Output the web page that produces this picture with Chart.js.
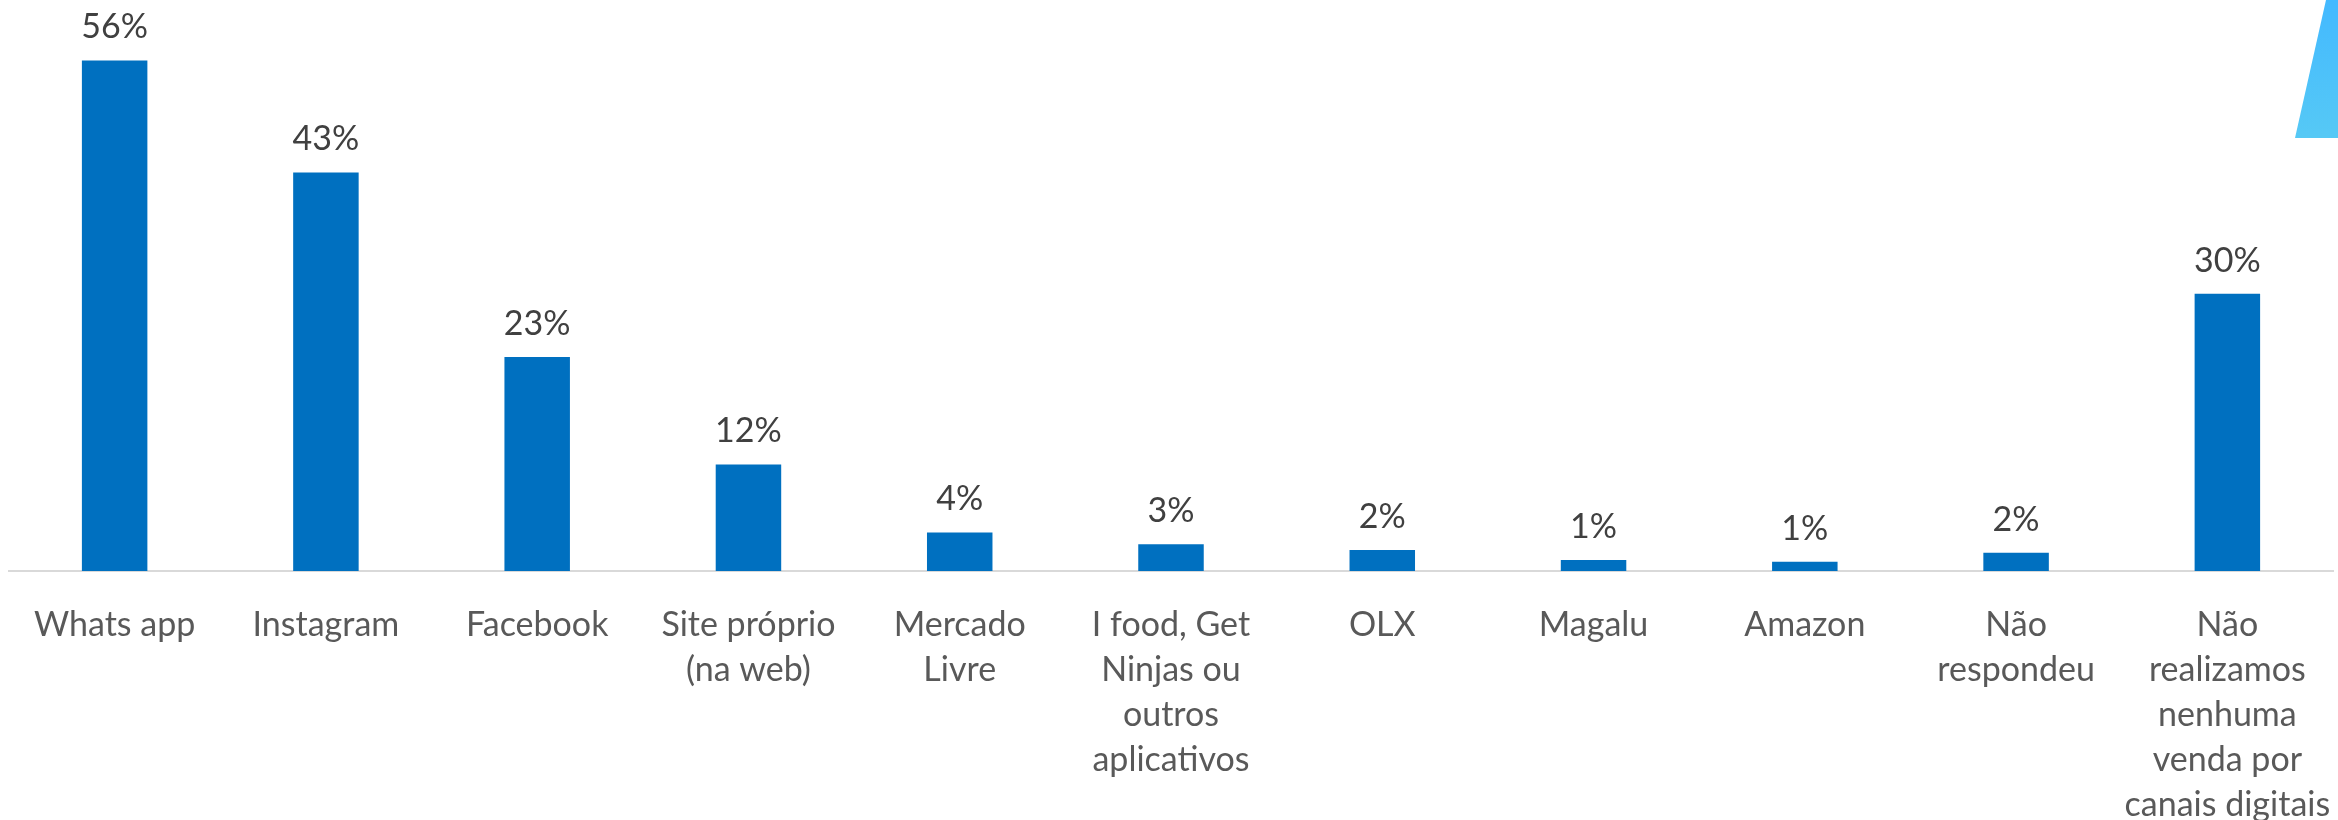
<!DOCTYPE html>
<html>
<head>
<meta charset="utf-8">
<script src="https://cdn.jsdelivr.net/npm/chart.js@4.4.1/dist/chart.umd.min.js"></script>
<style>
  html, body { margin: 0; padding: 0; background: #ffffff; }
  #wrap { position: relative; width: 2338px; height: 820px; overflow: hidden; }
  #c { display: block; }
  #deco { position: absolute; left: 2290px; top: 0; width: 48px; height: 140px;
          background: linear-gradient(180deg, #43B9FF 0%, #56C9F5 100%);
          clip-path: polygon(5px 138px, 36px 0, 48px 0, 48px 138px); }
</style>
</head>
<body>
<div id="wrap">
  <canvas id="c" width="2338" height="820"></canvas>
  <div id="deco"></div>
</div>
<script>
const categories = [
  ['Whats app'],
  ['Instagram'],
  ['Facebook'],
  ['Site próprio', '(na web)'],
  ['Mercado', 'Livre'],
  ['I food, Get', 'Ninjas ou', 'outros', 'aplicativos'],
  ['OLX'],
  ['Magalu'],
  ['Amazon'],
  ['Não', 'respondeu'],
  ['Não', 'realizamos', 'nenhuma', 'venda por', 'canais digitais']
];
const values = [55.6, 43.4, 23.3, 11.6, 4.2, 2.9, 2.3, 1.2, 1.0, 2.0, 30.2];
const valueLabels = ['56%', '43%', '23%', '12%', '4%', '3%', '2%', '1%', '1%', '2%', '30%'];

const FONT = 'Lato, Carlito, "Open Sans", sans-serif';

const valueLabelPlugin = {
  id: 'valueLabels',
  afterDatasetsDraw(chart) {
    const ctx = chart.ctx;
    const meta = chart.getDatasetMeta(0);
    ctx.save();
    ctx.font = '34px ' + FONT;
    ctx.fillStyle = '#404040';
    ctx.textAlign = 'center';
    ctx.textBaseline = 'alphabetic';
    meta.data.forEach((bar, i) => {
      ctx.fillText(valueLabels[i], bar.x, bar.y - 22);
    });
    ctx.restore();
  }
};

new Chart(document.getElementById('c'), {
  type: 'bar',
  data: {
    labels: categories,
    datasets: [{
      data: values,
      backgroundColor: '#0070C0',
      borderWidth: 0,
      barPercentage: 0.31,
      categoryPercentage: 1.0
    }]
  },
  options: {
    responsive: false,
    animation: false,
    devicePixelRatio: 1,
    layout: { padding: { top: 20, left: 9, right: 5, bottom: 0 } },
    plugins: { legend: { display: false }, tooltip: { enabled: false } },
    scales: {
      x: {
        grid: { display: false, drawTicks: false },
        border: { display: true, color: '#D9D9D9', width: 2 },
        ticks: {
          color: '#595959',
          font: { family: FONT, size: 34, lineHeight: 1.33 },
          padding: 31,
          maxRotation: 0,
          autoSkip: false
        },
        afterFit(scale) {
          scale.height = 249;
          scale.paddingLeft = 0;
          scale.paddingRight = 0;
        }
      },
      y: {
        display: false,
        min: 0,
        max: 60
      }
    }
  },
  plugins: [valueLabelPlugin]
});
</script>
</body>
</html>
